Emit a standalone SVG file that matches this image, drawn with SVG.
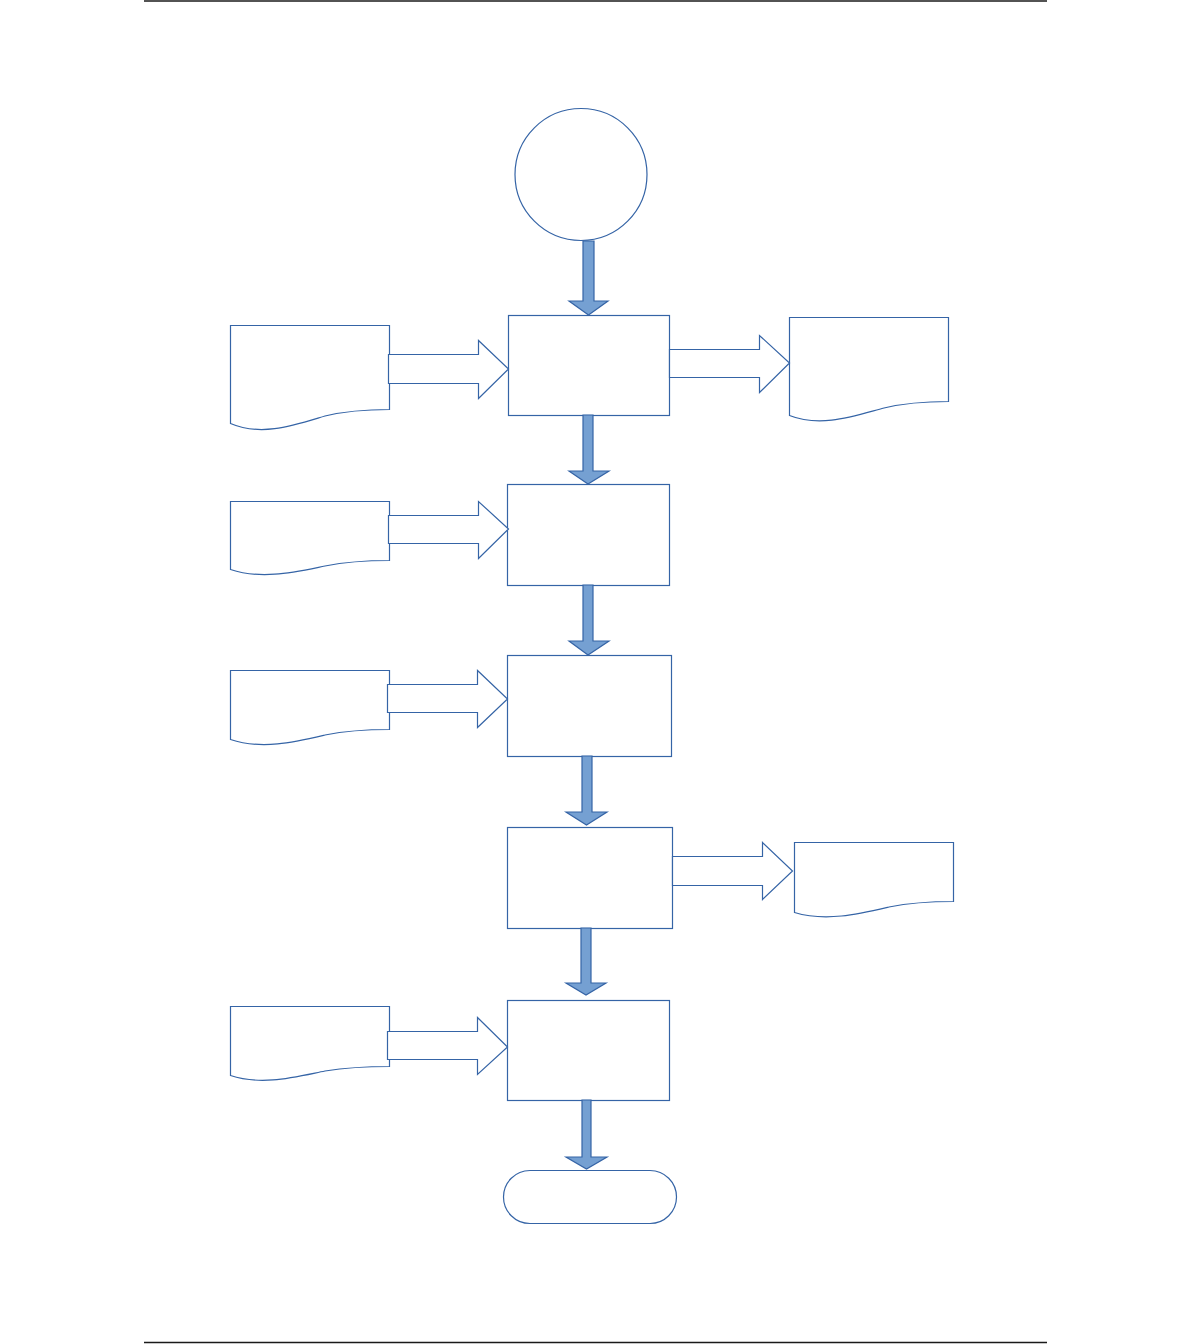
<svg xmlns="http://www.w3.org/2000/svg" width="1190" height="1344" viewBox="0 0 1190 1344">
<style>
.shape{fill:#ffffff;stroke:#3564a6;stroke-width:1.2}
.bar{fill:#75a0d2;stroke:#3564a6;stroke-width:1.2}
.rule{stroke:#1a1a1a;stroke-width:1.5}
</style>
<rect width="1190" height="1344" fill="#ffffff"/>
<line class="rule" x1="144" y1="1" x2="1047" y2="1"/>
<line class="rule" x1="144" y1="1342.5" x2="1047" y2="1342.5"/>

<g id="start"><circle class="shape" cx="581" cy="174.5" r="66"/></g>
<g id="p1"><rect class="shape" x="508.5" y="315.5" width="161" height="100"/></g>
<g id="p2"><rect class="shape" x="507.5" y="484.5" width="162" height="101"/></g>
<g id="p3"><rect class="shape" x="507.5" y="655.5" width="164" height="101"/></g>
<g id="p4"><rect class="shape" x="507.5" y="827.5" width="165" height="101"/></g>
<g id="p5"><rect class="shape" x="507.5" y="1000.5" width="162" height="100"/></g>
<g id="end"><rect class="shape" x="503.5" y="1170.5" width="173" height="53" rx="26.5" ry="26.5"/></g>

<g id="doc1"><path class="shape" d="M230.5,325.5 H389.5 V409.5 C372,409.5 350,410 325,416 C295,425 262,437 230.5,423.5 Z"/></g>
<g id="doc2"><path class="shape" d="M230.5,501.5 H389.5 V560.5 C372,560.5 350,561 325,566 C295,572 262,580 230.5,569.5 Z"/></g>
<g id="doc3"><path class="shape" d="M230.5,670.5 H389.5 V729.5 C372,729.5 350,730 325,735 C295,742 262,750 230.5,739.5 Z"/></g>
<g id="doc4"><path class="shape" d="M789.5,317.5 H948.5 V401.5 C931,401.5 909,402 884,408 C854,416 821,428 789.5,415.5 Z"/></g>
<g id="doc5"><path class="shape" d="M794.5,842.5 H953.5 V901.5 C936,901.5 914,902 889,907 C859,914 826,922 794.5,912.5 Z"/></g>
<g id="doc6"><path class="shape" d="M230.5,1006.5 H389.5 V1066.5 C372,1066.5 350,1067 325,1071 C295,1077 262,1086 230.5,1075.5 Z"/></g>

<g id="connectors">
<polygon class="bar" points="583,241 594,241 594,301 608,301 588.5,315 569,301 583,301"/>
<polygon class="bar" points="583,415 593,415 593,471 609,471 588,484 569,471 583,471"/>
<polygon class="bar" points="583,585 593,585 593,641 609,641 588,655 569,641 583,641"/>
<polygon class="bar" points="582,756 592,756 592,812 607,812 586.5,825 566,812 582,812"/>
<polygon class="bar" points="581,928 591,928 591,983 606,983 586,995 566,983 581,983"/>
<polygon class="bar" points="582,1100 591,1100 591,1157 607,1157 586.5,1169 566,1157 582,1157"/>

<polygon class="shape" points="388.5,354.5 478.5,354.5 478.5,340.5 508.5,369 478.5,398.5 478.5,383.5 388.5,383.5"/>
<polygon class="shape" points="388.5,515.5 478.5,515.5 478.5,501.5 508.5,529 478.5,558.5 478.5,543.5 388.5,543.5"/>
<polygon class="shape" points="387.5,684.5 477.5,684.5 477.5,670.5 507.5,699 477.5,727.5 477.5,712.5 387.5,712.5"/>
<polygon class="shape" points="669.5,349.5 759.5,349.5 759.5,335.5 789.5,363 759.5,392.5 759.5,377.5 669.5,377.5"/>
<polygon class="shape" points="672.5,856.5 762.5,856.5 762.5,842.5 792.5,871 762.5,899.5 762.5,885.5 672.5,885.5"/>
<polygon class="shape" points="387.5,1031.5 477.5,1031.5 477.5,1017.5 507.5,1047 477.5,1074.5 477.5,1059.5 387.5,1059.5"/>
</g>
</svg>
